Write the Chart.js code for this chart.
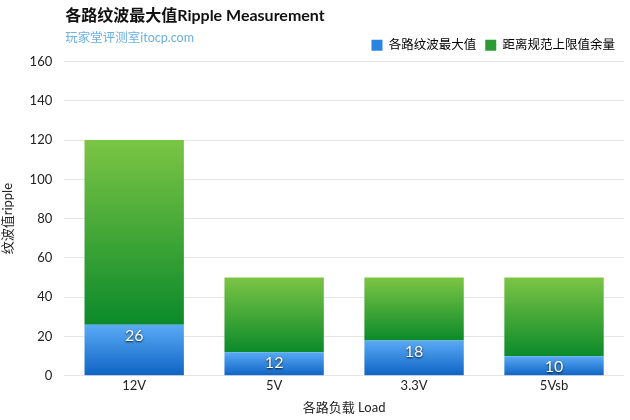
<!DOCTYPE html>
<html>
<head>
<meta charset="utf-8">
<script src="https://cdn.jsdelivr.net/npm/chart.js@4.4.0/dist/chart.umd.min.js"></script>
<style>
  html, body { margin: 0; padding: 0; background: #fff; }
  #wrap { width: 630px; height: 420px; }
</style>
</head>
<body>
<div id="wrap"><canvas id="rippleChart"></canvas></div>
<script>
// data
const loads = ["12V", "5V", "3.3V", "5Vsb"];
const rippleMax = [26, 12, 18, 10];
const marginLeft = [94, 38, 32, 40]; // limit - ripple (120, 50, 50, 50)
const yTicks = [0, 20, 40, 60, 80, 100, 120, 140, 160];

const FONT = "Lato, 'Noto Sans CJK SC', sans-serif";

// gradient for one stacked segment, built from the y scale
function segGradient(ctx, top, bottom) {
  const chart = ctx.chart;
  const y = chart.scales.y;
  if (!y || ctx.type !== "data") return top;
  let base = 0;
  if (ctx.datasetIndex === 1) base = rippleMax[ctx.dataIndex];
  const y0 = y.getPixelForValue(base + ctx.raw);
  const y1 = y.getPixelForValue(base);
  if (!isFinite(y0) || !isFinite(y1) || y0 === y1) return top;
  const g = chart.ctx.createLinearGradient(0, y0, 0, y1);
  g.addColorStop(0, top);
  g.addColorStop(1, bottom);
  return g;
}

// title, subtitle and value labels
const extras = {
  id: "extras",
  afterDraw(chart) {
    const c = chart.ctx;
    const left = chart.chartArea.left + 1;
    c.save();
    c.textBaseline = "middle";
    c.textAlign = "left";
    c.fillStyle = "#111";
    c.font = "bold 16px " + FONT;
    c.fillText("各路纹波最大值Ripple Measurement", left, 16);
    c.fillStyle = "#6ab0e2";
    c.font = "12.5px " + FONT;
    c.fillText("玩家堂评测室itocp.com", left, 38);

    const meta = chart.getDatasetMeta(0);
    c.font = "16px " + FONT;
    c.textAlign = "center";
    c.shadowColor = "rgba(0,0,0,0.85)";
    c.shadowBlur = 2;
    c.shadowOffsetX = 0;
    c.shadowOffsetY = 1;
    c.fillStyle = "#fff";
    meta.data.forEach((bar, i) => {
      c.fillText(String(rippleMax[i]), bar.x, bar.y + 11);
    });
    c.restore();
  }
};

new Chart(document.getElementById("rippleChart"), {
  type: "bar",
  data: {
    labels: loads,
    datasets: [
      {
        label: "各路纹波最大值",
        data: rippleMax,
        backgroundColor: (ctx) => segGradient(ctx, "#59aaf6", "#0f63c3"),
        legendColor: "#2a84e0",
        barPercentage: 0.71,
        categoryPercentage: 1
      },
      {
        label: "距离规范上限值余量",
        data: marginLeft,
        backgroundColor: (ctx) => segGradient(ctx, "#7cc545", "#0b8a2a"),
        legendColor: "#2b9c33",
        barPercentage: 0.71,
        categoryPercentage: 1
      }
    ]
  },
  options: {
    responsive: true,
    maintainAspectRatio: false,
    animation: false,
    layout: { padding: { top: 30, right: 6, left: 0, bottom: 4 } },
    plugins: {
      legend: {
        position: "top",
        align: "end",
        labels: {
          font: { size: 12.5, family: FONT },
          color: "#222",
          boxWidth: 11,
          boxHeight: 11,
          padding: 9,
          generateLabels(chart) {
            return chart.data.datasets.map((ds, i) => ({
              text: ds.label,
              fillStyle: ds.legendColor,
              strokeStyle: ds.legendColor,
              lineWidth: 0,
              datasetIndex: i
            }));
          }
        }
      },
      tooltip: { enabled: false }
    },
    scales: {
      x: {
        stacked: true,
        grid: { display: false, drawTicks: false },
        border: { display: false },
        ticks: { color: "#222", font: { size: 13, family: FONT }, padding: 2 },
        title: {
          display: true,
          text: "各路负载 Load",
          color: "#222",
          font: { size: 13, family: FONT },
          padding: { top: 5, bottom: 0 }
        }
      },
      y: {
        stacked: true,
        min: 0,
        max: 160,
        afterBuildTicks(axis) {
          axis.ticks = yTicks.map((v) => ({ value: v }));
        },
        grid: { color: "#e6e6e6", drawTicks: false },
        border: { display: false },
        ticks: { color: "#222", font: { size: 13, family: FONT }, padding: 12 },
        title: {
          display: true,
          text: "纹波值ripple",
          color: "#222",
          font: { size: 13, family: FONT },
          padding: { top: 0, bottom: 2 }
        }
      }
    }
  },
  plugins: [extras]
});
</script>
</body>
</html>
